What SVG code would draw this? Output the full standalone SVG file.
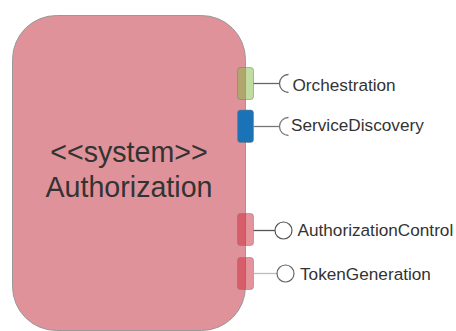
<svg xmlns="http://www.w3.org/2000/svg" width="456" height="331" viewBox="0 0 456 331">
<style>
.box{fill:#e0929a;stroke:#999;stroke-width:1}
.port{stroke:#777;stroke-opacity:0.5;stroke-width:1}
.title{font-family:"Liberation Sans",Arial,sans-serif;font-size:28.6px;fill:#333;text-anchor:middle}
.lbl{font-family:"Liberation Sans",Arial,sans-serif;font-size:17.2px;fill:#333}
.ln{fill:none;stroke-width:1.3}
</style>
<g id="system">
<rect class="box" x="12.5" y="15.5" width="233" height="315" rx="44" ry="44"/>
<text class="title" x="129" y="162">&lt;&lt;system&gt;&gt;</text>
<text class="title" x="129" y="197">Authorization</text>
</g>
<g id="ports">
<rect class="port" x="237.5" y="67.5" width="16" height="32" rx="3" fill="#81b941" fill-opacity="0.5"/>
<rect class="port" x="237.5" y="110" width="16" height="32.5" rx="3" fill="#1a73b6"/>
<rect class="port" x="237.5" y="213.5" width="16" height="32" rx="3" fill="#cb2737" fill-opacity="0.5"/>
<rect class="port" x="237.5" y="257.5" width="16" height="32" rx="3" fill="#cb2737" fill-opacity="0.5"/>
</g>
<g id="connectors">
<line class="ln" x1="253.5" y1="83.5" x2="280" y2="83.5" stroke="#666"/>
<line class="ln" x1="253.5" y1="126.5" x2="280" y2="126.5" stroke="#777"/>
<line class="ln" x1="253.5" y1="230.5" x2="275" y2="230.5" stroke="#555"/>
<line class="ln" x1="253.5" y1="273.5" x2="277" y2="273.5" stroke="#bbb"/>
</g>
<g id="Orchestration">
<path class="ln" d="M288.5 74.5 A9 9 0 0 0 288.5 92.5" stroke="#666"/>
<text class="lbl" x="292.5" y="91">Orchestration</text>
</g>
<g id="ServiceDiscovery">
<path class="ln" d="M288.5 117.5 A9 9 0 0 0 288.5 135.5" stroke="#777"/>
<text class="lbl" x="291" y="131">ServiceDiscovery</text>
</g>
<g id="AuthorizationControl">
<circle cx="283.5" cy="230.5" r="8.5" fill="#fff" stroke="#555" stroke-width="1.2"/>
<text class="lbl" x="297.5" y="236">AuthorizationControl</text>
</g>
<g id="TokenGeneration">
<circle cx="285.5" cy="273.5" r="8.5" fill="#fff" stroke="#666" stroke-width="1.2"/>
<text class="lbl" x="300" y="280">TokenGeneration</text>
</g>
</svg>
